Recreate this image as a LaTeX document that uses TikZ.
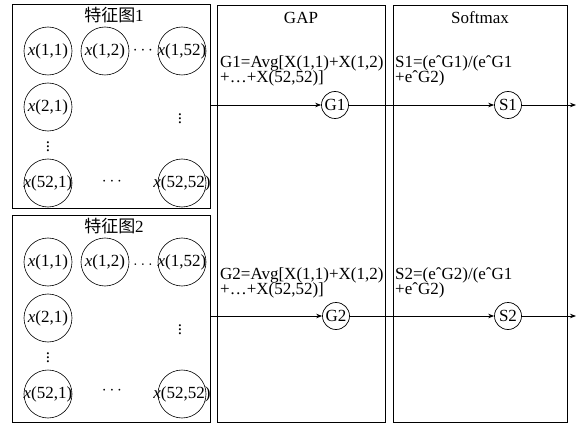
\documentclass[tikz,border=0pt]{standalone}
\usepackage{fontspec}
\setmainfont{Liberation Serif}
\newfontfamily\cjk{Noto Sans CJK SC}
\usetikzlibrary{arrows.meta}
\newcommand\celltext[1]{\makebox[0pt]{#1}}
\begin{document}
\begin{tikzpicture}[x=1pt,y=-1pt,
  every node/.style={font=\fontsize{17}{15}\selectfont},
  panel/.style={draw,line width=0.9pt,inner sep=0pt},
  cell/.style={draw,circle,line width=0.6pt,minimum size=48pt,inner sep=0pt},
  small/.style={draw,circle,line width=0.7pt,minimum size=27pt,inner sep=0pt},
  dots/.style={inner sep=0pt},
  txt/.style={anchor=base west,inner sep=0pt},
  conn/.style={line width=0.8pt,-{Stealth[length=6pt,width=4.5pt]}}]
\useasboundingbox (0,0) rectangle (576,425);
% panels
\node[panel,minimum width=198pt,minimum height=204pt] (fm1) at (111,106) {};
\node[panel,minimum width=198pt,minimum height=207pt] (fm2) at (111,318.5) {};
\node[panel,minimum width=168pt,minimum height=417pt] (gap) at (301,213.5) {};
\node[panel,minimum width=174pt,minimum height=417pt] (soft) at (480,213.5) {};
% titles
\node (t1) at (114,15) {{\cjk 特征图}1};
\node (t2) at (114,226) {{\cjk 特征图}2};
\node (tg) at (301,18) {GAP};
\node (ts) at (480,18) {Softmax};
% feature map 1
\node[cell] (a11) at (48,51) {\celltext{\textit{x}(1,1)}};
\node[cell] (a12) at (105,51) {\celltext{\textit{x}(1,2)}};
\node[cell] (a1n) at (182,51) {\celltext{\textit{x}(1,52)}};
\node[cell] (a21) at (48,107) {\celltext{\textit{x}(2,1)}};
\node[cell] (an1) at (48,183) {\celltext{\textit{x}(52,1)}};
\node[cell] (ann) at (182,183) {\celltext{\textit{x}(52,52)}};
\node[dots] (ad1) at (143,51) {$\cdots$};
\node[dots] (ad2) at (112,182) {$\cdots$};
\node[dots] (ad3) at (180,116) {$\vdots$};
\node[dots] (ad4) at (48,144) {$\vdots$};
% feature map 2
\node[cell] (b11) at (48,262) {\celltext{\textit{x}(1,1)}};
\node[cell] (b12) at (105,262) {\celltext{\textit{x}(1,2)}};
\node[cell] (b1n) at (182,262) {\celltext{\textit{x}(1,52)}};
\node[cell] (b21) at (48,318) {\celltext{\textit{x}(2,1)}};
\node[cell] (bn1) at (48,394) {\celltext{\textit{x}(52,1)}};
\node[cell] (bnn) at (182,394) {\celltext{\textit{x}(52,52)}};
\node[dots] (bd1) at (143,265) {$\ldots$};
\node[dots] (bd2) at (112,391) {$\cdots$};
\node[dots] (bd3) at (180,327) {$\vdots$};
\node[dots] (bd4) at (48,355) {$\vdots$};
% formulas
\node[txt] (f1a) at (220,68) {G1=Avg[X(1,1)+X(1,2)};
\node[txt] (f1b) at (220,83) {+…+X(52,52)]};
\node[txt] (f2a) at (220,279) {G2=Avg[X(1,1)+X(1,2)};
\node[txt] (f2b) at (220,294) {+…+X(52,52)]};
\node[txt] (s1a) at (395,68) {S1=(eˆG1)/(eˆG1};
\node[txt] (s1b) at (395,83) {+eˆG2)};
\node[txt] (s2a) at (395,279) {S2=(eˆG2)/(eˆG1};
\node[txt] (s2b) at (395,294) {+eˆG2)};
% circles
\node[small] (G1) at (335,105) {G1};
\node[small] (S1) at (508,105) {S1};
\node[small] (G2) at (336,316) {G2};
\node[small] (S2) at (508,316) {S2};
% connectors
\coordinate (p1) at (210,105);
\coordinate (p2) at (210,316);
\coordinate (q1) at (576,105);
\coordinate (q2) at (576,316);
\draw[conn] (p1) -- (G1);
\draw[conn] (G1) -- (S1);
\draw[conn] (S1) -- (q1);
\draw[conn] (p2) -- (G2);
\draw[conn] (G2) -- (S2);
\draw[conn] (S2) -- (q2);
\end{tikzpicture}
\end{document}
